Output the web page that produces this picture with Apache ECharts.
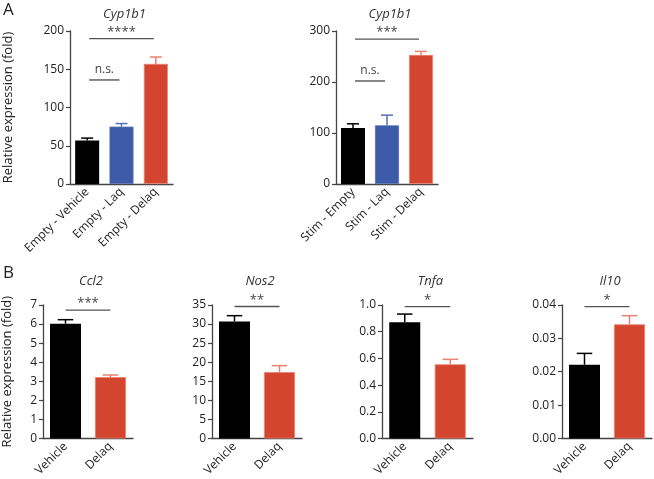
<!DOCTYPE html>
<html><head><meta charset="utf-8">
<script src="https://cdn.jsdelivr.net/npm/echarts@6/dist/echarts.min.js"></script>
<style>html,body{margin:0;padding:0;background:#fff}#c{width:654px;height:479px}</style>
</head><body><div id="c"></div>
<script>
// ---- data ----
const catA1 = ['Empty - Vehicle', 'Empty - Laq', 'Empty - Delaq'];
const meanA1 = [57, 75, 157];
const errA1 = [60, 79, 166];
const catA2 = ['Stim - Empty', 'Stim - Laq', 'Stim - Delaq'];
const meanA2 = [110, 115, 253];
const errA2 = [118, 135, 260];
const catB = ['Vehicle', 'Delaq'];
const meanCcl2 = [6.02, 3.22];
const errCcl2 = [6.23, 3.33];
const meanNos2 = [30.7, 17.4];
const errNos2 = [32.2, 19.1];
const meanTnfa = [0.87, 0.556];
const errTnfa = [0.932, 0.593];
const meanIl10 = [0.0221, 0.0342];
const errIl10 = [0.0255, 0.0368];
const titles = ['Cyp1b1', 'Cyp1b1', 'Ccl2', 'Nos2', 'Tnfa', 'Il10'];
// significance: [fromIndex, toIndex, yValue, label]
const sigA1 = [[0, 2, 190, '****'], [0, 1, 136, 'n.s.']];
const sigA2 = [[0, 2, 284, '***'], [0, 1, 202, 'n.s.']];
const sigCcl2 = [[0, 1, 6.73, '***']];
const sigNos2 = [[0, 1, 34.6, '**']];
const sigTnfa = [[0, 1, 0.988, '*']];
const sigIl10 = [[0, 1, 0.0395, '*']];

// ---- styles ----
const BLACK = '#000000', BLUE = '#3d5aa8', RED = '#d4452f';
const BLUE_E = '#5570b8', RED_E = '#e8826f';
const FONT = 'Open Sans';
const panels = [
  {cat: catA1, mean: meanA1, err: errA1, sig: sigA1, max: 200, interval: 50, dec: 0,
   grid: {left: 70, top: 31, width: 103, height: 153}, barW: 24, colors: [BLACK, BLUE, RED], ecol: [BLACK, BLUE_E, RED_E], inset: 2, yname: true, gap: 55},
  {cat: catA2, mean: meanA2, err: errA2, sig: sigA2, max: 300, interval: 100, dec: 0,
   grid: {left: 336, top: 31, width: 102, height: 153}, barW: 24, colors: [BLACK, BLUE, RED], ecol: [BLACK, BLUE_E, RED_E], inset: 2},
  {cat: catB, mean: meanCcl2, err: errCcl2, sig: sigCcl2, max: 7, interval: 1, dec: 0,
   grid: {left: 43, top: 305, width: 90, height: 137}, barW: 31, colors: [BLACK, RED], ecol: [BLACK, RED_E], inset: 0, yname: true, gap: 29},
  {cat: catB, mean: meanNos2, err: errNos2, sig: sigNos2, max: 35, interval: 5, dec: 0,
   grid: {left: 212, top: 305, width: 90, height: 137}, barW: 31, colors: [BLACK, RED], ecol: [BLACK, RED_E], inset: 0},
  {cat: catB, mean: meanTnfa, err: errTnfa, sig: sigTnfa, max: 1.0, interval: 0.2, dec: 1,
   grid: {left: 382, top: 305, width: 91, height: 137}, barW: 31, colors: [BLACK, RED], ecol: [BLACK, RED_E], inset: 0},
  {cat: catB, mean: meanIl10, err: errIl10, sig: sigIl10, max: 0.04, interval: 0.01, dec: 2,
   grid: {left: 562, top: 305, width: 90, height: 137}, barW: 31, colors: [BLACK, RED], ecol: [BLACK, RED_E], inset: 0}
];

const option = {
  animation: false,
  backgroundColor: '#fff',
  textStyle: {fontFamily: FONT},
  title: [], grid: [], xAxis: [], yAxis: [], series: [],
  graphic: [
    {type: 'text', left: 3, top: 2, style: {text: 'A', font: '17px "Open Sans"', fill: '#222'}},
    {type: 'text', left: 3, top: 265, style: {text: 'B', font: '17px "Open Sans"', fill: '#222'}}
  ]
};

panels.forEach((p, i) => {
  option.grid.push(Object.assign({containLabel: false}, p.grid));
  option.title.push({
    text: titles[i], left: p.grid.left + p.grid.width / 2 - 2, top: i < 2 ? 3 : 270, textAlign: 'center',
    textStyle: {fontFamily: FONT, fontStyle: 'italic', fontWeight: 'normal', fontSize: 13, color: '#333'}
  });
  option.xAxis.push({
    type: 'category', gridIndex: i, data: p.cat,
    axisLine: {lineStyle: {color: '#444', width: 1.3}},
    axisTick: {alignWithLabel: true, length: 4, lineStyle: {color: '#444', width: 1.2}},
    axisLabel: {rotate: 45, fontSize: 12, color: '#222', fontFamily: FONT, margin: 6, interval: 0}
  });
  option.yAxis.push({
    type: 'value', gridIndex: i, min: 0, max: p.max, interval: p.interval,
    name: p.yname ? 'Relative expression (fold)' : '', nameLocation: 'middle', nameGap: p.gap || 30,
    nameTextStyle: {fontSize: 13, color: '#222', fontFamily: FONT},
    splitLine: {show: false},
    axisLine: {show: true, lineStyle: {color: '#444', width: 1.3}},
    axisTick: {show: true, length: 4, lineStyle: {color: '#444', width: 1.2}},
    axisLabel: {fontSize: 12, color: '#222', fontFamily: FONT, margin: 6,
      formatter: v => v.toFixed(p.dec)}
  });
  option.series.push({
    type: 'bar', xAxisIndex: i, yAxisIndex: i, barWidth: p.barW,
    data: p.mean.map((v, k) => ({value: v, itemStyle: {color: p.colors[k], borderColor: p.ecol[k], borderWidth: k === 0 ? 0 : 0.8}}))
  });
  // error bars
  option.series.push({
    type: 'custom', xAxisIndex: i, yAxisIndex: i, z: 3,
    data: p.mean.map((v, k) => [k, v, p.err[k]]),
    renderItem: (params, api) => {
      const k = api.value(0);
      const top = api.coord([k, api.value(1)]);
      const e = api.coord([k, api.value(2)]);
      const hw = p.barW / 4;
      const style = {stroke: p.ecol[k], lineWidth: 1.5, fill: null};
      return {type: 'group', children: [
        {type: 'line', shape: {x1: e[0], y1: top[1], x2: e[0], y2: e[1]}, style},
        {type: 'line', shape: {x1: e[0] - hw, y1: e[1], x2: e[0] + hw, y2: e[1]}, style}
      ]};
    }
  });
  // significance lines
  option.series.push({
    type: 'custom', xAxisIndex: i, yAxisIndex: i, z: 4,
    data: p.sig,
    renderItem: (params, api) => {
      const a = api.coord([api.value(0), api.value(2)]);
      const b = api.coord([api.value(1), api.value(2)]);
      const lbl = p.sig[params.dataIndex][3];
      return {type: 'group', children: [
        {type: 'line', shape: {x1: a[0] + p.inset, y1: a[1], x2: b[0] - p.inset, y2: b[1]}, style: {stroke: '#555', lineWidth: 1.4}},
        {type: 'text', x: (a[0] + b[0]) / 2, y: a[1] - (lbl === 'n.s.' ? 4 : 0),
         style: {text: lbl, fill: '#444', font: (lbl === 'n.s.' ? '12px' : '13px') + ' "Open Sans"', align: 'center', verticalAlign: 'bottom'}}
      ]};
    }
  });
});

const chart = echarts.init(document.getElementById('c'), null, {renderer: 'canvas'});
chart.setOption(option);
</script>
</body></html>
